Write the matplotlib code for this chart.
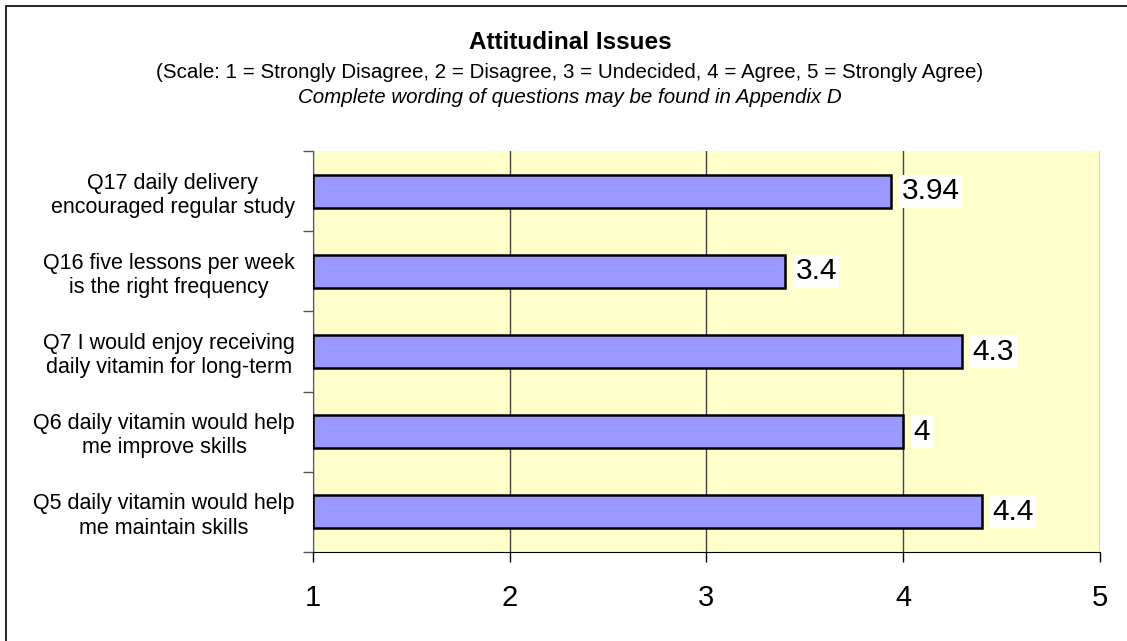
import matplotlib
matplotlib.use("Agg")
import matplotlib.pyplot as plt
from matplotlib.patches import Rectangle

plt.rcParams["font.family"] = ["Liberation Sans", "DejaVu Sans"]

# survey questions (bottom to top) and mean scores
QUESTIONS = [
    "Q5 daily vitamin would help\nme maintain skills",
    "Q6 daily vitamin would help\nme improve skills",
    "Q7 I would enjoy receiving\ndaily vitamin for long-term",
    "Q16 five lessons per week\nis the right frequency",
    "Q17 daily delivery\nencouraged regular study",
]
SCORES = [4.4, 4.0, 4.3, 3.4, 3.94]
SCORE_LABELS = ["4.4", "4", "4.3", "3.4", "3.94"]
X_TICKS = [1, 2, 3, 4, 5]

BAR = "#9999ff"
BG = "#ffffcc"

fig = plt.figure(figsize=(11.27, 6.41), dpi=100)
ax = fig.add_axes([0.2777, 0.1388, 0.6983, 0.6256])
ax.set_facecolor(BG)

ypos = list(range(len(QUESTIONS)))
ax.barh(ypos, [s - 1 for s in SCORES], left=1, height=0.41, color=BAR,
        edgecolor="black", linewidth=1.8, zorder=3)

for y, s, lbl in zip(ypos, SCORES, SCORE_LABELS):
    ax.annotate(lbl, (s, y), textcoords="offset points", xytext=(7.5, 0),
                ha="left", va="center", fontsize=21.5, zorder=4,
                bbox=dict(boxstyle="square,pad=0.08", fc="white", ec="none"))

ax.set_xlim(1, 5)
ax.set_ylim(-0.5, len(QUESTIONS) - 0.5)
ax.set_xticks(X_TICKS)
ax.set_xticklabels([str(t) for t in X_TICKS], fontsize=21)
ax.tick_params(axis="x", direction="out", length=7, width=1, pad=16)

# category labels centred between boundary ticks (Excel style)
ax.set_yticks(ypos)
ax.set_yticklabels(QUESTIONS, fontsize=15.5)
for t in ax.get_yticklabels():
    t.set_multialignment("center")
ax.tick_params(axis="y", which="major", length=0, pad=13)
ax.set_yticks([y - 0.5 for y in range(len(QUESTIONS) + 1)], minor=True)
ax.tick_params(axis="y", which="minor", direction="out", length=7, width=1,
               color="#555555")

ax.grid(axis="x", color="#444444", lw=1, zorder=1)
ax.spines["top"].set_visible(False)
ax.spines["right"].set_visible(False)
ax.spines["left"].set_color("#555555")
ax.spines["bottom"].set_color("black")

cx = 570 / 1127
fig.text(cx, 1 - 49 / 641, "Attitudinal Issues", ha="center", va="baseline",
         fontsize=17.5, fontweight="bold")
fig.text(cx, 1 - 77.5 / 641, "(Scale: 1 = Strongly Disagree, 2 = Disagree, 3 = Undecided, "
         "4 = Agree, 5 = Strongly Agree)", ha="center", va="baseline", fontsize=14.8)
fig.text(cx, 1 - 103 / 641, "Complete wording of questions may be found in Appendix D",
         ha="center", va="baseline", fontsize=14.8, style="italic")

# chart frame: only left and top edges fall inside the picture
fig.patches.append(Rectangle((5.5 / 1127, -0.1), 1.2, 1 - 5.5 / 641 + 0.1,
                             transform=fig.transFigure, fill=False,
                             ec="black", lw=1.2))

fig.savefig("out.png")
